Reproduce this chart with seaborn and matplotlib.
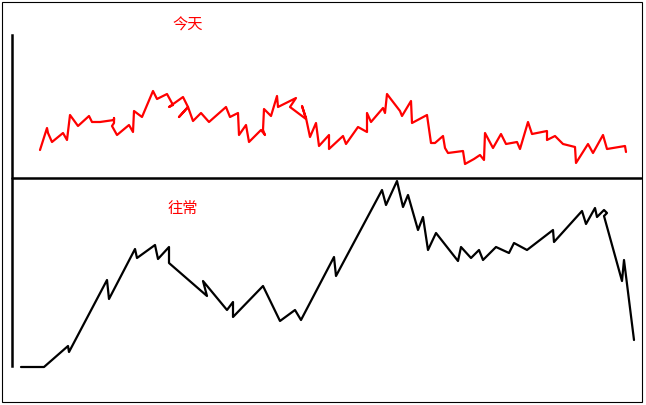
import seaborn as sns
import matplotlib.pyplot as plt
import pandas as pd
from matplotlib.patches import Rectangle

# canvas height, levels below are measured upward from the bottom edge
H = 406

# today (red) - hand drawn trace, x = time, y = level
today_t = [40, 47, 48, 52, 63, 67, 70, 78, 89, 92, 100, 114, 114, 114, 112, 117, 129, 133, 134, 142,
           153, 157, 167, 173, 169, 183, 188, 179, 188, 193, 201, 209, 226, 230, 238, 239, 246, 249, 261, 265,
           263, 264, 271, 277, 278, 296, 290, 306, 302, 306, 310, 316, 319, 329, 329, 343, 346, 358, 367, 367,
           371, 383, 385, 387, 390, 400, 402, 411, 412, 427, 431, 435, 443, 445, 448, 463, 465, 474, 480, 484,
           485, 493, 501, 506, 517, 520, 528, 532, 547, 547, 555, 563, 575, 576, 588, 593, 603, 607, 625, 626]
today_y = [151, 129, 134, 143, 134, 141, 116, 127, 117, 123, 123, 121, 119, 124, 127, 136, 126, 133, 112, 118,
           92, 100, 95, 106, 108, 98, 108, 118, 108, 122, 114, 123, 108, 118, 114, 136, 126, 143, 131, 136,
           131, 110, 117, 97, 108, 99, 108, 120, 107, 119, 138, 124, 147, 136, 150, 137, 145, 128, 133, 114,
           123, 109, 114, 95, 99, 112, 117, 102, 124, 116, 144, 144, 137, 149, 154, 152, 165, 160, 156, 161,
           134, 149, 135, 145, 143, 150, 123, 135, 132, 141, 137, 145, 148, 164, 145, 154, 136, 150, 147, 153]

# usual (black)
usual_t = [21, 44, 68, 69, 107, 109, 135, 137, 155, 158, 169, 169, 207, 203, 227, 233, 233, 263, 280, 295,
           301, 334, 336, 382, 386, 397, 403, 408, 418, 423, 428, 436, 458, 461, 471, 479, 483, 496, 509, 514,
           527, 553, 554, 582, 586, 595, 597, 604, 607, 604, 622, 624, 634]
usual_y = [368, 368, 347, 353, 281, 300, 250, 259, 246, 260, 248, 264, 297, 282, 311, 303, 318, 287, 322, 311,
           321, 258, 277, 191, 206, 182, 208, 196, 231, 218, 251, 234, 262, 248, 259, 251, 261, 248, 254, 244,
           251, 231, 243, 212, 225, 209, 218, 211, 214, 217, 282, 261, 341]

labels = ["今天", "往常"]

df_today = pd.DataFrame({"t": today_t, "v": [H - y for y in today_y]})
df_usual = pd.DataFrame({"t": usual_t, "v": [H - y for y in usual_y]})

sns.set_style("white")
plt.rcParams['font.family'] = ['Noto Sans CJK SC', 'DejaVu Sans']

fig = plt.figure(figsize=(6.46, 4.06), dpi=100)
ax = fig.add_axes([0, 0, 1, 1])

sns.lineplot(data=df_today, x="t", y="v", sort=False, estimator=None, color="#ff0000", lw=1.6, ax=ax)
sns.lineplot(data=df_usual, x="t", y="v", sort=False, estimator=None, color="black", lw=1.6, ax=ax)

ax.set_xlim(0, 646)
ax.set_ylim(0, H)

# left axis and the divider between the two panels
for s in ["top", "right", "bottom"]:
    ax.spines[s].set_visible(False)
ax.spines["left"].set_position(("data", 12))
ax.spines["left"].set_bounds(H - 367, H - 36)
ax.spines["left"].set_linewidth(1.8)
ax.spines["left"].set_color("black")
ax.axhline(H - 179, xmin=12 / 646, xmax=641 / 646, color="black", lw=1.8)

ax.text(188, H - 25, labels[0], color="#ff0000", fontsize=11, ha="center", va="center")
ax.text(183, H - 208, labels[1], color="#ff0000", fontsize=11, ha="center", va="center")

ax.set_xticks([])
ax.set_yticks([])
ax.set_xlabel("")
ax.set_ylabel("")

# outer frame
fig.patches.append(Rectangle((2 / 646, 3 / 406), 640 / 646, 400 / 406, transform=fig.transFigure,
                             fill=False, edgecolor="black", lw=0.8))

fig.savefig("out.png", dpi=100, facecolor="white")
